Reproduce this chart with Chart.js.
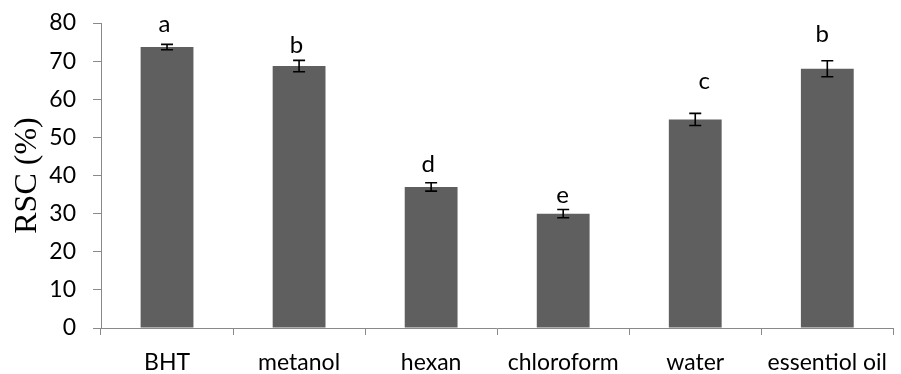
<!DOCTYPE html>
<html>
<head>
<meta charset="utf-8">
<script src="https://cdn.jsdelivr.net/npm/chart.js@4/dist/chart.umd.min.js"></script>
<style>
  html, body { margin: 0; padding: 0; background: #ffffff; }
  canvas { display: block; }
</style>
</head>
<body>
<canvas id="chart" width="901" height="374"></canvas>
<script>
// Radical scavenging capacity per extract
const categories = ['BHT', 'metanol', 'hexan', 'chloroform', 'water', 'essentiol oil'];
const rscValues  = [73.7, 68.7, 37.0, 30.0, 54.7, 68.0];
const rscErrors  = [0.7, 1.5, 1.1, 1.1, 1.6, 2.1];
const groupLetters = ['a', 'b', 'd', 'e', 'c', 'b'];
const yTicks = [0, 10, 20, 30, 40, 50, 60, 70, 80];

const AXIS_GREY = '#898989';

// Draws the standard-deviation whiskers and the significance letters above each bar
const errorBarPlugin = {
  id: 'errorBars',
  afterDatasetsDraw(chart, args, opts) {
    const ctx = chart.ctx;
    const yScale = chart.scales.y;
    const meta = chart.getDatasetMeta(0);
    ctx.save();
    ctx.strokeStyle = '#000000';
    ctx.lineWidth = 1.6;
    meta.data.forEach((bar, i) => {
      const x = bar.x;
      const v = rscValues[i];
      const e = rscErrors[i];
      const yHi = yScale.getPixelForValue(v + e);
      const yLo = yScale.getPixelForValue(v - e);
      const half = opts.capWidth / 2;
      ctx.beginPath();
      ctx.moveTo(x, yHi); ctx.lineTo(x, yLo);
      ctx.moveTo(x - half, yHi); ctx.lineTo(x + half, yHi);
      ctx.moveTo(x - half, yLo); ctx.lineTo(x + half, yLo);
      ctx.stroke();

      const shift = opts.letterShift[i];
      ctx.fillStyle = '#000000';
      ctx.font = opts.font;
      ctx.textAlign = 'center';
      ctx.textBaseline = 'alphabetic';
      ctx.fillText(groupLetters[i], x + shift[0], yHi - shift[1]);
    });
    ctx.restore();
  }
};

new Chart(document.getElementById('chart'), {
  type: 'bar',
  data: {
    labels: categories,
    datasets: [{
      data: rscValues,
      backgroundColor: '#5f5f5f',
      borderWidth: 0,
      categoryPercentage: 1.0,
      barPercentage: 0.4
    }]
  },
  plugins: [errorBarPlugin],
  options: {
    responsive: false,
    animation: false,
    devicePixelRatio: 1,
    layout: { padding: { top: 23, right: 0, bottom: 0, left: 0 } },
    plugins: {
      legend: { display: false },
      tooltip: { enabled: false },
      errorBars: {
        capWidth: 12,
        font: '24px Lato',
        // [dx, gap above whisker] per bar
        letterShift: [[-2.5, 12], [-2.5, 7], [-3, 10.5], [-0.5, 6], [9, 24.5], [-5, 18.5]]
      }
    },
    scales: {
      x: {
        grid: {
          display: true,
          drawOnChartArea: false,
          drawTicks: true,
          tickLength: 7,
          color: AXIS_GREY,
          offset: true
        },
        border: { display: true, color: AXIS_GREY, width: 1 },
        ticks: {
          color: '#000000',
          font: { family: 'Lato', size: 23 },
          padding: 14,
          maxRotation: 0,
          autoSkip: false
        },
        afterFit(scale) { scale.height = 46; }
      },
      y: {
        min: 0,
        max: 80,
        afterBuildTicks(scale) { scale.ticks = yTicks.map(v => ({ value: v })); },
        grid: {
          display: true,
          drawOnChartArea: false,
          drawTicks: true,
          tickLength: 8,
          color: AXIS_GREY
        },
        border: { display: true, color: AXIS_GREY, width: 1 },
        ticks: {
          color: '#000000',
          font: { family: 'Lato', size: 23 },
          padding: 17
        },
        title: {
          display: true,
          text: 'RSC (%)',
          color: '#000000',
          font: { family: 'Liberation Serif', size: 32 },
          padding: { top: 8, bottom: 0 }
        },
        afterFit(scale) {
          scale.width = 101;
          // only the half-height of the end labels needs room above/below the axis
          scale.paddingTop = 14;
          scale.paddingBottom = 14;
        }
      }
    }
  }
});
</script>
</body>
</html>
